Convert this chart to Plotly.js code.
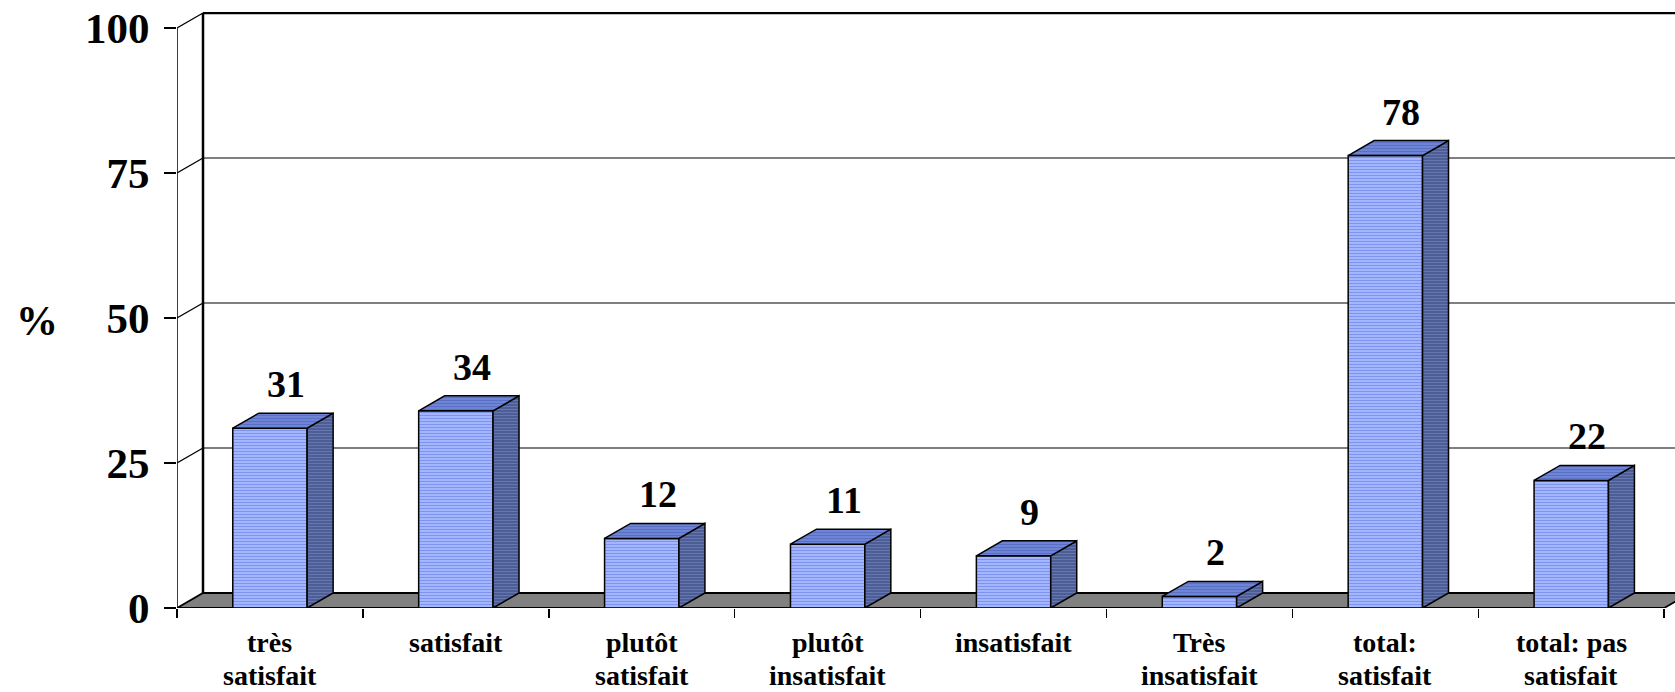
<!DOCTYPE html>
<html>
<head>
<meta charset="utf-8">
<script src="https://cdn.plot.ly/plotly-3.0.1.min.js"></script>
<style>html,body{margin:0;padding:0;background:#fff;}#chart{width:1675px;height:692px;}</style>
</head>
<body>
<div id="chart"></div>
<script>
// ---- data ----
const categories = ["très<br>satisfait", "satisfait", "plutôt<br>satisfait", "plutôt<br>insatisfait",
                    "insatisfait", "Très<br>insatisfait", "total:<br>satisfait", "total: pas<br>satisfait"];
const values = [31, 34, 12, 11, 9, 2, 78, 22];
const yTickVals = [0, 25, 50, 75, 100];
const yTickText = ["0", "25", "50", "75", "100"];
const wallGridVals = [25, 50, 75];
const yAxisTitle = "%";

// ---- layout geometry (styles / sizes) ----
const W = 1675, H = 692;
const M = {l: 177, r: 0, t: 12, b: 84};
const plotW = W - M.l - M.r, plotH = H - M.t - M.b;
const catPx = 185.9;          // pixels per category
const ppu = 5.8;              // pixels per % unit
const depthX = 26, depthY = 15; // 3D depth offset in pixels
const xMax = -0.5 + plotW / catPx;
const yMax = plotH / ppu;
const dxD = depthX / catPx, dyD = depthY / ppu;
const halfW = 0.2;            // half bar width in category units
const idx = categories.map((c, i) => i);

const serif = "Liberation Serif, Times New Roman, serif";

// ---- 3D faces from data ----
const sideX = [], sideY = [], topX = [], topY = [];
idx.forEach(i => {
  const v = values[i];
  const xr = i + halfW, xl = i - halfW;
  sideX.push(xr, xr, xr + dxD, xr + dxD, xr, null);
  sideY.push(0, v, v + dyD, dyD, 0, null);
  topX.push(xl, xl + dxD, xr + dxD, xr, xl, null);
  topY.push(v, v + dyD, v + dyD, v, v, null);
});

const fronts = {
  type: 'bar', x: idx, y: values, width: 2 * halfW,
  marker: {
    color: '#a4b6ff',
    line: {color: '#000', width: 1.5},
    pattern: {shape: '-', bgcolor: '#a8baff', fgcolor: '#7d93f0', size: 3, solidity: 0.4, fillmode: 'replace'}
  },
  hoverinfo: 'skip', showlegend: false
};
const sides = {
  type: 'scatter', mode: 'lines', x: sideX, y: sideY, fill: 'toself',
  fillcolor: '#4a5a92',
  fillpattern: {shape: '-', bgcolor: '#4a5a92', fgcolor: '#6676ae', size: 3, solidity: 0.4, fillmode: 'replace'},
  line: {color: '#000', width: 1.5}, hoverinfo: 'skip', showlegend: false
};
const tops = {
  type: 'scatter', mode: 'lines', x: topX, y: topY, fill: 'toself',
  fillcolor: '#6f86da',
  fillpattern: {shape: '-', bgcolor: '#6f86da', fgcolor: '#5a70c2', size: 3, solidity: 0.4, fillmode: 'replace'},
  line: {color: '#000', width: 1.5}, hoverinfo: 'skip', showlegend: false
};

// ---- frame shapes (walls, floor) ----
const shapes = [];
// floor
shapes.push({type: 'path', xref: 'x', yref: 'y', layer: 'below',
  path: `M ${-0.5},0 L ${idx.length - 0.5},0 L ${idx.length - 0.5 + dxD},${dyD} L ${-0.5 + dxD},${dyD} Z`,
  fillcolor: '#808080', line: {color: '#000', width: 1.8}});
// back wall gridlines
wallGridVals.forEach(g => shapes.push({type: 'line', xref: 'x', yref: 'y', layer: 'below',
  x0: -0.5 + dxD, x1: xMax + 1, y0: g + dyD, y1: g + dyD, line: {color: '#000', width: 1.2}}));
// back wall top & left edges
shapes.push({type: 'line', xref: 'x', yref: 'y', layer: 'below',
  x0: -0.5 + dxD, x1: xMax + 1, y0: 100 + dyD, y1: 100 + dyD, line: {color: '#000', width: 2.5}});
shapes.push({type: 'line', xref: 'x', yref: 'y', layer: 'below',
  x0: -0.5 + dxD, x1: -0.5 + dxD, y0: dyD, y1: 100 + dyD, line: {color: '#000', width: 2.5}});
// side wall diagonals
yTickVals.filter(g => g > 0).forEach(g => shapes.push({type: 'line', xref: 'x', yref: 'y', layer: 'below',
  x0: -0.5, x1: -0.5 + dxD, y0: g, y1: g + dyD, line: {color: '#000', width: 1.3}}));
// front value axis line
shapes.push({type: 'line', xref: 'x', yref: 'y', layer: 'below',
  x0: -0.5, x1: -0.5, y0: 0, y1: 100, line: {color: '#000', width: 1.5}});

// ---- annotations ----
const annotations = [];
idx.forEach(i => annotations.push({
  x: i, y: values[i], xref: 'x', yref: 'y', text: String(values[i]), showarrow: false,
  xanchor: 'center', yanchor: 'middle', xshift: 16, yshift: 44,
  font: {family: serif, size: 38, color: '#000', weight: 'bold'}
}));
idx.forEach(i => {
  categories[i].split('<br>').forEach((line, k) => annotations.push({
    x: i, y: 0, xref: 'x', yref: 'y', text: line, showarrow: false,
    xanchor: 'center', yanchor: 'middle', yshift: -34 - 33 * k,
    font: {family: serif, size: 28, color: '#000', weight: 'bold'}
  }));
});
annotations.push({
  xref: 'paper', yref: 'paper', x: (37 - M.l) / plotW, y: (H - M.b - 321) / plotH,
  text: yAxisTitle, showarrow: false, xanchor: 'center', yanchor: 'middle',
  font: {family: serif, size: 42, color: '#000', weight: 'bold'}
});

const layout = {
  width: W, height: H, margin: M,
  paper_bgcolor: '#fff', plot_bgcolor: 'rgba(0,0,0,0)',
  showlegend: false, bargap: 0,
  xaxis: {
    range: [-0.5, xMax], tickvals: idx.concat([idx.length]).map(i => i - 0.5),
    ticks: 'outside', ticklen: 9, tickwidth: 1.5, tickcolor: '#000',
    showticklabels: false, showgrid: false, zeroline: false, showline: false, fixedrange: true
  },
  yaxis: {
    range: [0, yMax], tickvals: yTickVals, ticktext: yTickText,
    ticks: 'outside', ticklen: 12, tickwidth: 1.5, tickcolor: '#000',
    ticklabelstandoff: 6,
    tickfont: {family: serif, size: 43, color: '#000', weight: 'bold'},
    showgrid: false, zeroline: false, showline: false, fixedrange: true
  },
  shapes: shapes,
  annotations: annotations
};

Plotly.newPlot('chart', [fronts, sides, tops], layout, {staticPlot: true, displayModeBar: false});
</script>
</body>
</html>
